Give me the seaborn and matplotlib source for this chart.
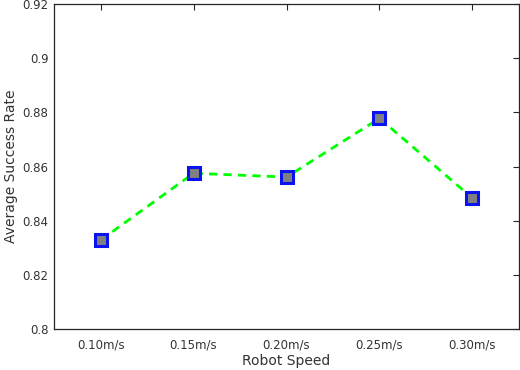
import pandas as pd
import seaborn as sns
import matplotlib.pyplot as plt

# Chart data
speeds = ["0.10m/s", "0.15m/s", "0.20m/s", "0.25m/s", "0.30m/s"]
success_rate = [0.8328, 0.8575, 0.8561, 0.8778, 0.8483]
y_ticks = [0.8, 0.82, 0.84, 0.86, 0.88, 0.9, 0.92]
y_tick_labels = ["0.8", "0.82", "0.84", "0.86", "0.88", "0.9", "0.92"]


def main():
    df = pd.DataFrame({"speed": speeds, "rate": success_rate})

    sns.set_style("white")
    plt.rcParams["font.family"] = ["DejaVu Sans"]

    fig = plt.figure(figsize=(5.2, 3.7), dpi=100)
    ax = fig.add_axes([0.104, 0.111, 0.894, 0.878])

    sns.lineplot(
        data=df, x="speed", y="rate", ax=ax,
        color="#00ff00", linestyle=(0, (3, 2.2)), linewidth=2,
        marker="s", markersize=9, markerfacecolor="#808080",
        markeredgecolor="#0a14f0", markeredgewidth=2.2,
    )

    ax.set_xlim(-0.5, 4.5)
    ax.set_ylim(0.8, 0.92)
    ax.set_yticks(y_ticks)
    ax.set_yticklabels(y_tick_labels)

    ax.tick_params(direction="in", length=4, width=0.8, colors="#262626",
                   labelcolor="#333333", labelsize=8.5, top=True, right=True)
    ax.tick_params(axis="x", labeltop=False, pad=7)
    ax.tick_params(axis="y", labelright=False, pad=4)
    for s in ax.spines.values():
        s.set_color("#262626")
        s.set_linewidth(0.9)

    ax.set_xlabel("Robot Speed", fontsize=10, color="#333333", labelpad=2)
    ax.set_ylabel("Average Success Rate", fontsize=10, color="#333333", labelpad=3)

    fig.savefig("out.png", dpi=100)


if __name__ == "__main__":
    main()
